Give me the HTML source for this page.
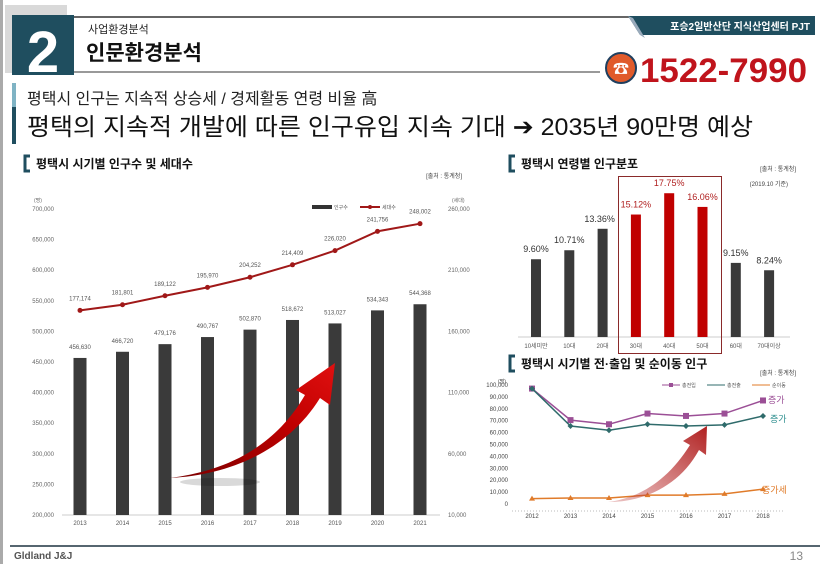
<!DOCTYPE html>
<html><head><meta charset="utf-8"><style>
html,body{margin:0;padding:0;background:#fff;}
body{width:820px;height:564px;overflow:hidden;position:relative;font-family:"Liberation Sans","Noto Sans CJK KR",sans-serif;}
svg{position:absolute;left:0;top:0;}
text{font-family:"Liberation Sans","Noto Sans CJK KR",sans-serif;}
</style></head><body>
<svg id="s" width="820" height="564" viewBox="0 0 820 564">
<defs>
<linearGradient id="ag" x1="0" y1="1" x2="1" y2="0"><stop offset="0" stop-color="#7a0000"/><stop offset="0.6" stop-color="#c00000"/><stop offset="1" stop-color="#e01010"/></linearGradient>
<linearGradient id="ag2" x1="0" y1="1" x2="1" y2="0"><stop offset="0" stop-color="#c04040" stop-opacity="0.3"/><stop offset="1" stop-color="#b02020"/></linearGradient>
</defs>
<rect x="0" y="0" width="820" height="564" fill="#fff"/>
<rect x="0" y="0" width="3" height="564" fill="#aaa"/>
<g>
<rect x="5" y="5" width="62" height="68" fill="#d9d9d9"/>
<rect x="12" y="15" width="62" height="60" fill="#1f4e5f"/>
<text x="43" y="72" font-size="58" font-weight="bold" fill="#fff" text-anchor="middle">2</text>
<line x1="74" y1="17" x2="700" y2="17" stroke="#333" stroke-width="1.5"/>
<line x1="74" y1="72" x2="600" y2="72" stroke="#333" stroke-width="1"/>
<text x="88" y="33" font-size="11" fill="#222">사업환경분석</text>
<text x="86" y="60" font-size="21" font-weight="bold" fill="#111">인문환경분석</text>
<polygon points="628,16 815,16 815,35 640,35" fill="#1f4e5f"/>
<polygon points="628,16 640,35 645,38 633,18" fill="#9ab"/>
<text x="810" y="30" font-size="10" font-weight="bold" fill="#fff" text-anchor="end">포승2일반산단 지식산업센터 PJT</text>
<circle cx="621" cy="68" r="15" fill="#e05a2a" stroke="#1f3f5f" stroke-width="2"/>
<text x="621" y="74" font-size="16" fill="#fff" text-anchor="middle">☎</text>
<text x="640" y="82" font-size="34" font-weight="bold" fill="#c0141c" textLength="167" lengthAdjust="spacingAndGlyphs">1522-7990</text>
<rect x="12" y="83" width="4" height="24" fill="#7fb3c4"/>
<rect x="12" y="107" width="4" height="37" fill="#1f4e5f"/>
<text x="27" y="104" font-size="16" fill="#222">평택시 인구는 지속적 상승세 / 경제활동 연령 비율 高</text>
<text x="27" y="135" font-size="24" fill="#111" textLength="726" lengthAdjust="spacingAndGlyphs">평택의 지속적 개발에 따른 인구유입 지속 기대 ➔ 2035년 90만명 예상</text>
</g>
<path d="M30,156 h-5 v15 h5" fill="none" stroke="#1f4e5f" stroke-width="3"/>
<text x="36" y="168" font-size="12" font-weight="bold" fill="#111">평택시 시기별 인구수 및 세대수</text>
<text x="462" y="178" font-size="6" fill="#444" text-anchor="end">[출처 : 통계청]</text>
<path d="M515,156 h-5 v15 h5" fill="none" stroke="#1f4e5f" stroke-width="3"/>
<text x="521" y="168" font-size="12" font-weight="bold" fill="#111">평택시 연령별 인구분포</text>
<text x="796" y="171" font-size="6" fill="#444" text-anchor="end">[출처 : 통계청]</text>
<text x="788" y="186" font-size="6" fill="#444" text-anchor="end">(2019.10 기준)</text>
<path d="M515,356 h-5 v15 h5" fill="none" stroke="#1f4e5f" stroke-width="3"/>
<text x="521" y="368" font-size="12" font-weight="bold" fill="#111">평택시 시기별 전·출입 및 순이동 인구</text>
<text x="796" y="375" font-size="6" fill="#444" text-anchor="end">[출처 : 통계청]</text>
<line x1="10" y1="546" x2="820" y2="546" stroke="#1f3340" stroke-width="1.5"/>
<text x="14" y="559" font-size="10" font-weight="bold" fill="#555">Gldland J&amp;J</text>
<text x="803" y="560" font-size="12" fill="#888" text-anchor="end">13</text>
<g id="c1"></g><g id="c2"></g><g id="c3"></g>
</svg>
<script>
const NS="http://www.w3.org/2000/svg";
function mk(p,tag,a,txt){const e=document.createElementNS(NS,tag);for(const k in a)e.setAttribute(k,a[k]);if(txt!=null)e.textContent=txt;p.appendChild(e);return e;}
const fmt=v=>v.toLocaleString('en-US');

const years1=["2013","2014","2015","2016","2017","2018","2019","2020","2021"];
const population=[456630,466720,479176,490767,502870,518672,513027,534343,544368];
const households=[177174,181801,189122,195970,204252,214409,226020,241756,248002];
const leftTicks=[200000,250000,300000,350000,400000,450000,500000,550000,600000,650000,700000];
const rightTicks=[10000,60000,110000,160000,210000,260000];
const c1=document.getElementById('c1');
const yL=v=>515-(v-200000)/500000*306;
const yR=v=>515-(v-10000)/250000*306;
const x1=i=>80+i*42.5;
mk(c1,'line',{x1:62,y1:515,x2:440,y2:515,stroke:'#ccc'});
leftTicks.forEach(t=>{const e=mk(c1,'text',{x:54,y:yL(t)+2,'font-size':6,fill:'#666','text-anchor':'end'},fmt(t));

});
rightTicks.forEach(t=>{const e=mk(c1,'text',{x:448,y:yR(t)+2,'font-size':6,fill:'#666'},fmt(t));

});
mk(c1,'text',{x:34,y:202,'font-size':5,fill:'#666'},'(명)');
mk(c1,'text',{x:452,y:202,'font-size':5,fill:'#666'},'(세대)');
years1.forEach((y,i)=>{
const b=mk(c1,'rect',{x:x1(i)-6.5,y:yL(population[i]),width:13,height:515-yL(population[i]),fill:'#3a3a3a'});


mk(c1,'text',{x:x1(i),y:yL(population[i])-9,'font-size':6,fill:'#555','text-anchor':'middle'},fmt(population[i]));
const t=mk(c1,'text',{x:x1(i),y:525,'font-size':6,fill:'#555','text-anchor':'middle'},y);


});
const hp=households.map((v,i)=>x1(i)+','+yR(v)).join(' ');
const hl=mk(c1,'polyline',{points:hp,fill:'none',stroke:'#a01818','stroke-width':2});


households.forEach((v,i)=>{
const p=mk(c1,'circle',{cx:x1(i),cy:yR(v),r:2.5,fill:'#a01818'});


mk(c1,'text',{x:x1(i),y:yR(v)-10,'font-size':6,fill:'#555','text-anchor':'middle'},fmt(v));});
const lg=mk(c1,'g',{});


mk(lg,'rect',{x:312,y:205,width:20,height:4,fill:'#333'});
mk(lg,'text',{x:334,y:209,'font-size':5,fill:'#555'},'인구수');
mk(lg,'line',{x1:360,y1:207,x2:380,y2:207,stroke:'#a01818','stroke-width':2});
mk(lg,'circle',{cx:370,cy:207,r:2,fill:'#a01818'});
mk(lg,'text',{x:382,y:209,'font-size':5,fill:'#555'},'세대수');
const ar=mk(c1,'path',{d:'M170,478 C215,472 270,455 305,395 L296,390 L335,363 L330,405 L320,398 C288,450 230,475 170,478 Z',fill:'url(#ag)'});


mk(c1,'ellipse',{cx:220,cy:482,rx:40,ry:4,fill:'#000',opacity:0.15});

const ages=["10세미만","10대","20대","30대","40대","50대","60대","70대이상"];
const shares=[9.60,10.71,13.36,15.12,17.75,16.06,9.15,8.24];
const highlight=[false,false,false,true,true,true,false,false];
const c2=document.getElementById('c2');
const x2=i=>536+i*33.3;
const y2=v=>337-v*8.1;
mk(c2,'line',{x1:518,y1:337,x2:790,y2:337,stroke:'#ccc'});
ages.forEach((a,i)=>{
const col=highlight[i]?'#c00000':'#3a3a3a';
const b=mk(c2,'rect',{x:x2(i)-5,y:y2(shares[i]),width:10,height:337-y2(shares[i]),fill:col});


mk(c2,'text',{x:x2(i)-(i==2?3:0),y:y2(shares[i])-7,'font-size':9,fill:highlight[i]?'#b02020':'#333','text-anchor':'middle'},shares[i].toFixed(2)+'%');
const t=mk(c2,'text',{x:x2(i),y:348,'font-size':6,fill:'#555','text-anchor':'middle'},a);


});
const hb=mk(c2,'rect',{x:618.5,y:176.5,width:103,height:177,fill:'none',stroke:'#8a2a2a','stroke-width':1});



const years3=["2012","2013","2014","2015","2016","2017","2018"];
const inflow=[97000,70500,67000,76000,74000,76000,87000];
const outflow=[97000,65500,62000,67000,65500,66500,74000];
const netMove=[4500,5000,5000,7500,7500,8500,12500];
const ticks3=[0,10000,20000,30000,40000,50000,60000,70000,80000,90000,100000];
const c3=document.getElementById('c3');
const x3=i=>532+i*38.5;
const y3=v=>504-v/100000*119;
ticks3.forEach(t=>{const e=mk(c3,'text',{x:508,y:y3(t)+2,'font-size':6,fill:'#444','text-anchor':'end'},fmt(t));

});
mk(c3,'text',{x:498,y:383,'font-size':5,fill:'#444'},'(명)');
mk(c3,'line',{x1:512,y1:511,x2:783,y2:511,stroke:'#bbb','stroke-dasharray':'1,2'});
years3.forEach((y,i)=>{const t=mk(c3,'text',{x:x3(i),y:518,'font-size':6,fill:'#444','text-anchor':'middle'},y);

});
function series(arr,col,name,shape){
const l=mk(c3,'polyline',{points:arr.map((v,i)=>x3(i)+','+y3(v)).join(' '),fill:'none',stroke:col,'stroke-width':1.5});


arr.forEach((v,i)=>{const x=x3(i),y=y3(v);let p;
if(shape=='sq')p=mk(c3,'rect',{x:x-3,y:y-3,width:6,height:6,fill:col});
else if(shape=='di')p=mk(c3,'polygon',{points:`${x},${y-3} ${x+3},${y} ${x},${y+3} ${x-3},${y}`,fill:col});
else p=mk(c3,'polygon',{points:`${x},${y-3} ${x+3},${y+2} ${x-3},${y+2}`,fill:col});

});}
series(inflow,'#9b4f96','inflow','sq');
series(outflow,'#2f6b6b','outflow','di');
series(netMove,'#e07b2a','net-move','tri');
mk(c3,'text',{x:768,y:403,'font-size':9,fill:'#9b4f96'},'증가');
mk(c3,'text',{x:770,y:422,'font-size':9,fill:'#2f8f8f'},'증가');
mk(c3,'text',{x:762,y:493,'font-size':9,fill:'#e07b2a'},'증가세');
const lg3=mk(c3,'g',{});


mk(lg3,'line',{x1:662,y1:385,x2:680,y2:385,stroke:'#9b4f96'});mk(lg3,'rect',{x:669,y:383,width:4,height:4,fill:'#9b4f96'});
mk(lg3,'text',{x:682,y:387,'font-size':5,fill:'#555'},'총전입');
mk(lg3,'line',{x1:707,y1:385,x2:725,y2:385,stroke:'#2f6b6b'});
mk(lg3,'text',{x:727,y:387,'font-size':5,fill:'#555'},'총전출');
mk(lg3,'line',{x1:752,y1:385,x2:770,y2:385,stroke:'#e07b2a'});
mk(lg3,'text',{x:772,y:387,'font-size':5,fill:'#555'},'순이동');
const ar2=mk(c3,'path',{d:'M608,502 C640,498 668,480 690,445 L683,441 L707,426 L706,455 L699,450 C680,485 645,502 608,502 Z',fill:'url(#ag2)'});


</script>
</body></html>
